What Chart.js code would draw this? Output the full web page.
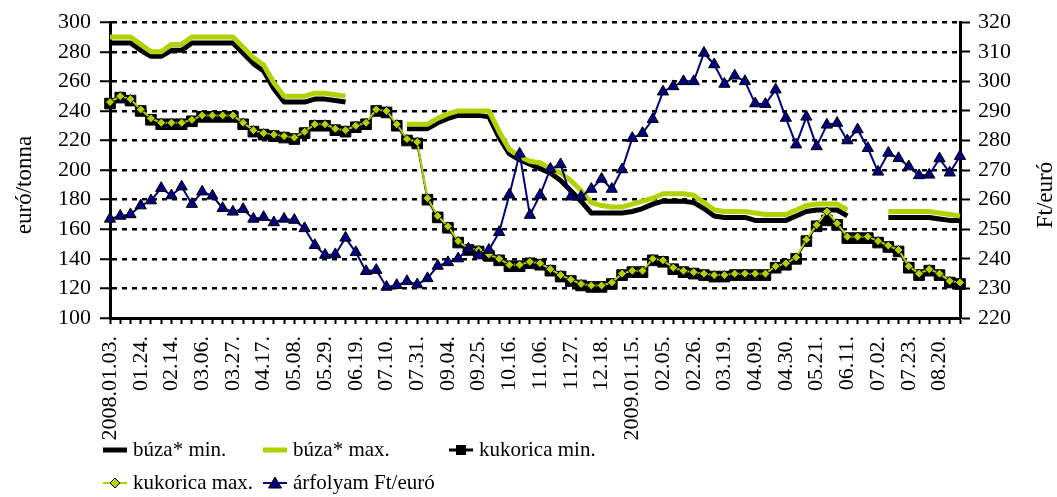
<!DOCTYPE html>
<html>
<head>
<meta charset="utf-8">
<script src="https://cdn.jsdelivr.net/npm/chart.js@4.4.1/dist/chart.umd.min.js"></script>
<style>
    html, body { margin: 0; padding: 0; background: #fff; }
    #wrap { width: 1057px; height: 497px; }
</style>
</head>
<body>
<div id="wrap"><canvas id="c" width="1057" height="497"></canvas></div>
<script>
// weekly quotes, only every 3rd date is shown on the axis
const dates = [
    '2008.01.03.', '01.10.', '01.17.', '01.24.', '01.31.', '02.07.', '02.14.', '02.21.', '02.28.', '03.06.', '03.13.', '03.20.',
    '03.27.', '04.03.', '04.10.', '04.17.', '04.24.', '05.01.', '05.08.', '05.15.', '05.22.', '05.29.', '06.05.', '06.12.',
    '06.19.', '06.26.', '07.03.', '07.10.', '07.17.', '07.24.', '07.31.', '08.14.', '08.28.', '09.04.', '09.11.', '09.18.',
    '09.25.', '10.02.', '10.09.', '10.16.', '10.23.', '10.30.', '11.06.', '11.13.', '11.20.', '11.27.', '12.04.', '12.11.',
    '12.18.', '12.23.', '01.08.', '2009.01.15.', '01.22.', '01.29.', '02.05.', '02.12.', '02.19.', '02.26.', '03.05.', '03.12.',
    '03.19.', '03.26.', '04.02.', '04.09.', '04.16.', '04.23.', '04.30.', '05.07.', '05.14.', '05.21.', '05.28.', '06.04.',
    '06.11.', '06.18.', '06.25.', '07.02.', '07.09.', '07.16.', '07.23.', '07.30.', '08.13.', '08.20.', '08.27.', '09.03.'
];

const buzaMin = [
    286, 286, 286, 281, 277, 277, 281, 281, 286, 286, 286, 286,
    286, 279, 272, 267, 255, 246, 246, 246, 248, 248, 247, 246,
    null, null, null, null, null, 228, 228, 228, 232, 235, 237, 237,
    237, 236, 222, 211, 207, 204, 201, 198, 193, 186, 179, 171,
    171, 171, 171, 172, 174, 177, 179, 179, 179, 178, 174, 169,
    168, 168, 168, 166, 166, 166, 166, 169, 172, 173, 173, 173,
    169, null, null, null, 168, 168, 168, 168, 168, 167, 166, 166
];

const buzaMax = [
    290, 290, 290, 285, 280, 280, 285, 285, 290, 290, 290, 290,
    290, 283, 276, 271, 259, 250, 250, 250, 252, 252, 251, 250,
    null, null, null, null, null, 231, 231, 231, 235, 238, 240, 240,
    240, 240, 226, 214, 209, 206, 205, 201, 198, 193, 186, 178,
    176, 175, 175, 177, 179, 181, 184, 184, 184, 183, 178, 173,
    172, 172, 172, 171, 170, 170, 170, 173, 176, 177, 177, 177,
    173, null, null, null, 172, 172, 172, 172, 172, 171, 170, 169
];

const kukoricaMin = [
    245, 249, 247, 240, 234, 231, 231, 231, 233, 236, 236, 236,
    236, 231, 226, 224, 223, 222, 221, 225, 230, 230, 227, 226,
    229, 231, 240, 239, 230, 220, 218, 180, 168, 161, 151, 146,
    145, 142, 139, 135, 135, 137, 136, 132, 128, 125, 122, 121,
    121, 123, 129, 131, 131, 139, 138, 133, 131, 130, 129, 128,
    128, 129, 129, 129, 129, 134, 136, 140, 152, 162, 166, 163,
    154, 154, 154, 151, 148, 145, 134, 129, 132, 129, 124, 123
];

const kukoricaMax = [
    246, 250, 248, 241, 235, 232, 232, 232, 234, 237, 237, 237,
    237, 232, 227, 225, 224, 223, 222, 226, 231, 231, 228, 227,
    230, 232, 241, 240, 231, 221, 219, 181, 169, 162, 152, 147,
    146, 143, 140, 136, 136, 138, 137, 133, 129, 126, 123, 122,
    122, 124, 130, 132, 132, 140, 139, 134, 132, 131, 130, 129,
    129, 130, 130, 130, 130, 135, 137, 141, 153, 163, 172, 164,
    155, 155, 155, 152, 149, 146, 135, 130, 133, 130, 125, 124
];

const arfolyam = [
    253.5, 254.5, 255, 258, 259.7, 263.9, 261.4, 264.4, 258.5, 262.7, 261.3, 257.1,
    255.9, 256.8, 253.5, 254.1, 252.3, 253.5, 253.1, 250.3, 244.6, 241.3, 241.5, 247.1,
    242.2, 235.8, 236.2, 230.5, 231.1, 232.4, 231.3, 233.4, 237.6, 238.8, 240.1, 243.4,
    241.1, 243, 249, 261.7, 275.5, 254.8, 261.6, 270.4, 271.9, 261, 261, 263.6,
    267, 263.6, 270.2, 280.8, 282.5, 287.2, 296.5, 298.3, 300, 300, 309.6, 305.7,
    299.1, 301.9, 300, 292.5, 292.3, 297.2, 287.6, 278.6, 288, 278, 285.3, 285.9,
    280, 283.7, 277.4, 269.4, 275.8, 274, 271.2, 268.2, 268.4, 273.9, 269.1, 274.7
];

const leftTicks = {min: 100, max: 300, step: 20};
const rightTicks = {min: 220, max: 320, step: 10};

const FONT = 'Liberation Serif';
const GREEN = '#b2d100';
const NAVY = '#000080';

// legend slots: column x, row y
const legendItems = [
    {text: 'búza* min.', x: 103, y: 450, kind: 'line', color: '#000', width: 5},
    {text: 'búza* max.', x: 263, y: 450, kind: 'line', color: GREEN, width: 5},
    {text: 'kukorica min.', x: 449, y: 450, kind: 'square', color: '#000', width: 3},
    {text: 'kukorica max.', x: 103, y: 483, kind: 'diamond', color: GREEN, width: 2},
    {text: 'árfolyam Ft/euró', x: 263, y: 483, kind: 'triangle', color: NAVY, width: 2}
];

function drawMarker(ctx, kind, cx, cy) {
    ctx.beginPath();
    if (kind === 'square') {
        ctx.rect(cx - 5, cy - 5, 10, 10);
        ctx.fillStyle = '#000';
        ctx.fill();
        return;
    }
    if (kind === 'diamond') {
        ctx.moveTo(cx, cy - 5); ctx.lineTo(cx + 5, cy); ctx.lineTo(cx, cy + 5); ctx.lineTo(cx - 5, cy);
        ctx.fillStyle = GREEN;
    } else {
        ctx.moveTo(cx, cy - 6); ctx.lineTo(cx + 6.5, cy + 5); ctx.lineTo(cx - 6.5, cy + 5);
        ctx.fillStyle = NAVY;
    }
    ctx.closePath();
    ctx.fill();
    ctx.lineWidth = 1;
    ctx.strokeStyle = '#000';
    ctx.stroke();
}

// axis titles (both read bottom to top) and the 3-column legend
const decorations = {
    id: 'decorations',
    afterDraw(chart) {
        const ctx = chart.ctx;
        ctx.save();
        ctx.fillStyle = '#000';
        ctx.font = `23px "${FONT}"`;
        ctx.textAlign = 'center';
        ctx.textBaseline = 'middle';

        const titles = [['euró/tonna', 25, 185], ['Ft/euró', 1046, 195]];
        titles.forEach(([t, x, y]) => {
            ctx.save();
            ctx.translate(x, y);
            ctx.rotate(-Math.PI / 2);
            ctx.fillText(t, 0, 0);
            ctx.restore();
        });

        ctx.font = `21px "${FONT}"`;
        ctx.textAlign = 'left';
        legendItems.forEach(item => {
            ctx.beginPath();
            ctx.moveTo(item.x, item.y);
            ctx.lineTo(item.x + 24, item.y);
            ctx.lineWidth = item.width;
            ctx.strokeStyle = item.color;
            ctx.stroke();
            if (item.kind !== 'line') drawMarker(ctx, item.kind, item.x + 12, item.y);
            ctx.fillStyle = '#000';
            ctx.fillText(item.text, item.x + 30, item.y);
        });
        ctx.restore();
    }
};

const tickFont = {family: FONT, size: 22};

new Chart(document.getElementById('c').getContext('2d'), {
    type: 'line',
    data: {
        labels: dates,
        datasets: [
            {
                label: 'búza* min.', data: buzaMin, yAxisID: 'y', order: 5,
                borderColor: '#000', borderWidth: 5, pointRadius: 0
            },
            {
                label: 'búza* max.', data: buzaMax, yAxisID: 'y', order: 4,
                borderColor: GREEN, borderWidth: 5, pointRadius: 0
            },
            {
                label: 'kukorica min.', data: kukoricaMin, yAxisID: 'y', order: 3,
                borderColor: '#000', borderWidth: 2,
                pointStyle: 'rect', pointRadius: 7.5,
                pointBackgroundColor: '#000', pointBorderColor: '#000', pointBorderWidth: 1
            },
            {
                label: 'kukorica max.', data: kukoricaMax, yAxisID: 'y', order: 2,
                borderColor: GREEN, borderWidth: 2,
                pointStyle: 'rectRot', pointRadius: 4.5,
                pointBackgroundColor: GREEN, pointBorderColor: '#000', pointBorderWidth: 1
            },
            {
                label: 'árfolyam Ft/euró', data: arfolyam, yAxisID: 'y1', order: 1,
                borderColor: NAVY, borderWidth: 2,
                pointStyle: 'triangle', pointRadius: 6.5,
                pointBackgroundColor: NAVY, pointBorderColor: '#000', pointBorderWidth: 1
            }
        ]
    },
    options: {
        responsive: false,
        animation: false,
        events: [],
        layout: {padding: {top: 10, left: 0, right: 0, bottom: 0}},
        elements: {line: {tension: 0, borderJoinStyle: 'round'}},
        plugins: {legend: {display: false}, tooltip: {enabled: false}},
        scales: {
            x: {
                offset: false,
                grid: {drawOnChartArea: false, color: '#000', tickLength: 6, tickWidth: 2},
                border: {color: '#000', width: 3},
                ticks: {
                    autoSkip: false, minRotation: 90, maxRotation: 90, padding: 12,
                    color: '#000', font: tickFont,
                    callback: (value, index) => index % 3 === 0 ? dates[index] : ''
                },
                afterFit: scale => { scale.height = 179; }
            },
            y: {
                position: 'left',
                min: leftTicks.min, max: leftTicks.max,
                ticks: {stepSize: leftTicks.step, padding: 9, color: '#000', font: tickFont},
                // border.dash dashes the grid lines, the axis line itself stays solid
                grid: {color: '#000', lineWidth: 2.5, tickLength: 10, tickWidth: 2},
                border: {color: '#000', width: 3, dash: [5, 5]},
                afterFit: scale => { scale.width = 110; }
            },
            y1: {
                position: 'right',
                min: rightTicks.min, max: rightTicks.max,
                ticks: {stepSize: rightTicks.step, padding: 8, color: '#000', font: tickFont},
                grid: {drawOnChartArea: false, color: '#000', tickLength: 10, tickWidth: 2},
                border: {color: '#000', width: 3},
                afterFit: scale => { scale.width = 97; }
            }
        }
    },
    plugins: [decorations]
});
</script>
</body>
</html>
